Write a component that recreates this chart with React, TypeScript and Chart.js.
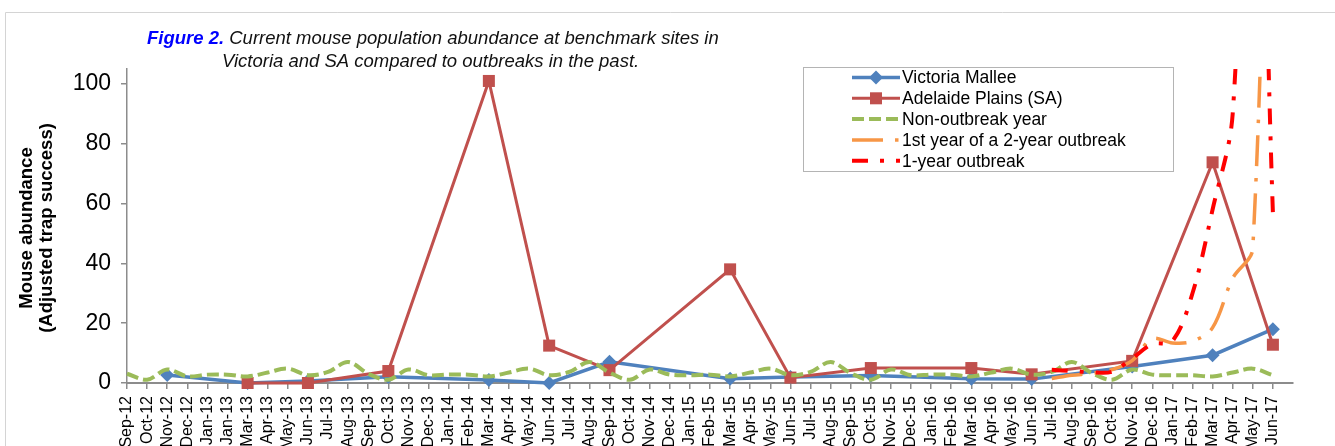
import React, { useEffect, useRef } from 'react';
import { Chart, registerables } from 'chart.js';

Chart.register(...registerables);

const FONT = "'Liberation Sans', Arial, sans-serif";

const monthLabels = [
  'Sep-12', 'Oct-12', 'Nov-12', 'Dec-12', 'Jan-13', 'Jan-13', 'Mar-13', 'Apr-13', 'May-13', 'Jun-13',
  'Jul-13', 'Aug-13', 'Sep-13', 'Oct-13', 'Nov-13', 'Dec-13', 'Jan-14', 'Feb-14', 'Mar-14', 'Apr-14',
  'May-14', 'Jun-14', 'Jul-14', 'Aug-14', 'Sep-14', 'Oct-14', 'Nov-14', 'Dec-14', 'Jan-15', 'Feb-15',
  'Mar-15', 'Apr-15', 'May-15', 'Jun-15', 'Jul-15', 'Aug-15', 'Sep-15', 'Oct-15', 'Nov-15', 'Dec-15',
  'Jan-16', 'Feb-16', 'Mar-16', 'Apr-16', 'May-16', 'Jun-16', 'Jul-16', 'Aug-16', 'Sep-16', 'Oct-16',
  'Nov-16', 'Dec-16', 'Jan-17', 'Feb-17', 'Mar-17', 'Apr-17', 'May-17', 'Jun-17',
];
const axisLabels = [...monthLabels, ''];

const n = null;
const victoriaMallee = [
  n, n, 2.7, n, n, n, 0, n, n, 0.7,
  n, n, n, 2.1, n, n, n, n, 1.0, n,
  n, 0, n, n, 7.1, n, n, n, n, n,
  1.4, n, n, 2.0, n, n, n, 2.5, n, n,
  n, n, 1.4, n, n, 1.3, n, n, n, n,
  5.5, n, n, n, 9.3, n, n, 18.0,
];
const adelaidePlains = [
  n, n, n, n, n, n, 0, n, n, 0,
  n, n, n, 4.0, n, n, n, n, 101.0, n,
  n, 12.5, n, n, 4.3, n, n, n, n, n,
  38.0, n, n, 1.8, n, n, n, 5.0, n, n,
  n, n, 5.0, n, n, 2.9, n, n, n, n,
  7.4, n, n, n, 73.8, n, n, 12.8,
];
const nonOutbreakYear = [
  3.1, 1.1, 4.5, 2.2, 2.8, 2.8, 2.2, 3.5, 4.8, 2.6,
  3.7, 7.0, 3.1, 1.1, 4.5, 2.6, 2.8, 2.8, 2.2, 3.5,
  4.8, 2.6, 3.7, 7.0, 3.5, 1.1, 4.5, 2.8, 2.6, 2.8,
  2.2, 3.5, 4.8, 2.6, 3.7, 7.0, 3.3, 1.1, 4.5, 2.6,
  2.8, 2.8, 2.2, 3.5, 4.8, 2.8, 3.7, 7.0, 3.3, 1.1,
  4.5, 2.8, 2.6, 2.6, 2.2, 3.5, 4.8, 2.6,
];
const firstYearOfTwoYearOutbreak = [
  n, n, n, n, n, n, n, n, n, n,
  n, n, n, n, n, n, n, n, n, n,
  n, n, n, n, n, n, n, n, n, n,
  n, n, n, n, n, n, n, n, n, n,
  n, n, n, n, n, n, 1.5, 2.6, 3.2, 4.5,
  7.5, 14.8, 13.4, 14.0, 18.5, 35.0, 45.0, 300.0,
];
const oneYearOutbreak = [
  n, n, n, n, n, n, n, n, n, n,
  n, n, n, n, n, n, n, n, n, n,
  n, n, n, n, n, n, n, n, n, n,
  n, n, n, n, n, n, n, n, n, n,
  n, n, n, n, n, n, 4.4, 4.0, 3.6, 3.8,
  8.2, 13.0, 14.0, 30.0, 58.0, 90.0, 250.0, 57.0,
];
const yTicks = [0, 20, 40, 60, 80, 100];

const titleLead = 'Figure 2.';
const titleRest = ' Current mouse population abundance at benchmark sites in';
const titleLine2 = 'Victoria and SA compared to outbreaks in the past.';
const yTitleLines = ['Mouse abundance', '(Adjusted trap success)'];

const BLUE = '#4F81BD';
const RED = '#C0504D';
const GREEN = '#9BBB59';
const ORANGE = '#F79646';
const BRIGHT_RED = '#FF0000';
const AXIS = '#8C8C8C';

const CANVAS_W = 1335;
const CANVAS_H = 470;

const decor = {
  id: 'decor',
  beforeDraw(chart: any) {
    const ctx = chart.ctx;
    ctx.save();
    ctx.fillStyle = '#ffffff';
    ctx.fillRect(0, 0, chart.width, chart.height);
    ctx.strokeStyle = '#D4D4D4';
    ctx.lineWidth = 1;
    ctx.beginPath();
    ctx.moveTo(5.5, chart.height);
    ctx.lineTo(5.5, 12.5);
    ctx.lineTo(chart.width, 12.5);
    ctx.stroke();
    ctx.restore();
  },
  afterDraw(chart: any) {
    const ctx = chart.ctx;
    ctx.save();
    // title
    ctx.textBaseline = 'alphabetic';
    ctx.textAlign = 'left';
    ctx.font = `italic bold 18.5px ${FONT}`;
    ctx.fillStyle = '#0000FF';
    ctx.fillText(titleLead, 147, 43.5);
    const w = ctx.measureText(titleLead).width;
    ctx.font = `italic 18.5px ${FONT}`;
    ctx.fillStyle = '#111111';
    ctx.fillText(titleRest, 147 + w, 43.5);
    ctx.fillText(titleLine2, 222, 66.5);

    // y axis title
    ctx.save();
    ctx.translate(0, 228);
    ctx.rotate(-Math.PI / 2);
    ctx.font = `bold 18.5px ${FONT}`;
    ctx.fillStyle = '#000000';
    ctx.textAlign = 'center';
    ctx.textBaseline = 'middle';
    ctx.fillText(yTitleLines[0], 0, 27);
    ctx.fillText(yTitleLines[1], 0, 47);
    ctx.restore();

    // legend
    const bx = 803.5, by = 67.5, bw = 370, bh = 104;
    ctx.fillStyle = '#ffffff';
    ctx.fillRect(bx, by, bw, bh);
    ctx.strokeStyle = '#B4B4B4';
    ctx.lineWidth = 1;
    ctx.strokeRect(bx, by, bw, bh);
    const datasets = chart.data.datasets;
    datasets.forEach((ds: any, i: number) => {
      const y = 77.5 + i * 20.8;
      ctx.save();
      ctx.strokeStyle = ds.borderColor;
      ctx.lineWidth = ds.borderWidth;
      ctx.lineCap = 'butt';
      ctx.setLineDash(ds.borderDash || []);
      ctx.beginPath();
      ctx.moveTo(852, y);
      ctx.lineTo(900, y);
      ctx.stroke();
      ctx.setLineDash([]);
      if (ds.pointRadius > 0) {
        const cx = 876;
        const r = ds.pointRadius;
        ctx.fillStyle = ds.borderColor;
        ctx.beginPath();
        if (ds.pointStyle === 'rectRot') {
          ctx.moveTo(cx, y - r);
          ctx.lineTo(cx + r, y);
          ctx.lineTo(cx, y + r);
          ctx.lineTo(cx - r, y);
          ctx.closePath();
        } else {
          const s = r * Math.SQRT1_2;
          ctx.rect(cx - s, y - s, 2 * s, 2 * s);
        }
        ctx.fill();
      }
      ctx.restore();
      ctx.font = `17.5px ${FONT}`;
      ctx.fillStyle = '#000000';
      ctx.textAlign = 'left';
      ctx.textBaseline = 'middle';
      ctx.fillText(ds.label, 902, y + 1);
    });
    ctx.restore();
  },
};

export default function App() {
  const ref = useRef<HTMLCanvasElement>(null);

  useEffect(() => {
    const canvas = ref.current;
    if (!canvas) return;
    const chart = new Chart(canvas, {
      type: 'line',
      data: {
        labels: axisLabels,
        datasets: [
          {
            label: 'Victoria Mallee',
            data: victoriaMallee,
            borderColor: BLUE,
            backgroundColor: BLUE,
            borderWidth: 3.5,
            pointStyle: 'rectRot',
            pointRadius: 7,
            pointBorderWidth: 0,
            pointBackgroundColor: BLUE,
            pointBorderColor: BLUE,
            spanGaps: true,
            tension: 0,
            order: 5,
            clip: false,
          },
          {
            label: 'Adelaide Plains (SA)',
            data: adelaidePlains,
            borderColor: RED,
            backgroundColor: RED,
            borderWidth: 3,
            pointStyle: 'rect',
            pointRadius: 8.5,
            pointBorderWidth: 0,
            pointBackgroundColor: RED,
            pointBorderColor: RED,
            spanGaps: true,
            tension: 0,
            order: 4,
            clip: false,
          },
          {
            label: 'Non-outbreak year',
            data: nonOutbreakYear,
            borderColor: GREEN,
            backgroundColor: GREEN,
            borderWidth: 4,
            borderDash: [12, 5],
            pointRadius: 0,
            spanGaps: true,
            tension: 0.35,
            order: 3,
            clip: false,
          },
          {
            label: '1st year of a 2-year outbreak',
            data: firstYearOfTwoYearOutbreak,
            borderColor: ORANGE,
            backgroundColor: ORANGE,
            borderWidth: 3.5,
            borderDash: [31, 12, 3.5, 12],
            pointRadius: 0,
            spanGaps: true,
            tension: 0.35,
            order: 2,
            clip: { left: 5, right: 5, top: 0, bottom: 5 },
          },
          {
            label: '1-year outbreak',
            data: oneYearOutbreak,
            borderColor: BRIGHT_RED,
            backgroundColor: BRIGHT_RED,
            borderWidth: 4,
            borderDash: [16, 12, 4, 12],
            pointRadius: 0,
            spanGaps: true,
            tension: 0.35,
            order: 1,
            clip: { left: 5, right: 5, top: 0, bottom: 5 },
          },
        ] as any,
      },
      options: {
        responsive: false,
        animation: false,
        events: [],
        layout: { padding: { top: 69, right: 42, left: 0, bottom: 0 } },
        elements: { line: { capBezierPoints: false } },
        plugins: {
          legend: { display: false },
          tooltip: { enabled: false },
          title: { display: false },
        },
        scales: {
          x: {
            type: 'category',
            offset: false,
            grid: {
              display: true,
              drawOnChartArea: false,
              drawTicks: true,
              tickLength: 6,
              lineWidth: 1.5,
              color: (c: any) => (c.index === axisLabels.length - 1 ? 'rgba(0,0,0,0)' : AXIS),
            },
            border: { display: true, color: AXIS, width: 2 },
            ticks: {
              autoSkip: false,
              maxRotation: 90,
              minRotation: 90,
              padding: 7,
              color: '#000000',
              font: { family: FONT, size: 16 },
            },
            afterFit: (s: any) => {
              s.height = CANVAS_H - 383;
            },
          },
          y: {
            type: 'linear',
            min: 0,
            max: 105,
            afterBuildTicks: (s: any) => {
              s.ticks = yTicks.map((v) => ({ value: v }));
            },
            grid: {
              display: true,
              drawOnChartArea: false,
              drawTicks: true,
              tickLength: 6,
              lineWidth: 1.5,
              color: AXIS,
            },
            border: { display: true, color: AXIS, width: 1.5 },
            ticks: {
              color: '#000000',
              padding: 10,
              font: { family: FONT, size: 23 },
            },
            afterFit: (s: any) => {
              s.width = 127;
            },
          },
        },
      } as any,
      plugins: [decor],
    });
    return () => chart.destroy();
  }, []);

  return (
    <div
      style={{
        position: 'fixed',
        left: 0,
        top: 0,
        width: CANVAS_W,
        height: 446,
        overflow: 'hidden',
        background: '#ffffff',
      }}
    >
      <canvas
        ref={ref}
        width={CANVAS_W}
        height={CANVAS_H}
        style={{ display: 'block', width: CANVAS_W, height: CANVAS_H }}
      />
    </div>
  );
}
